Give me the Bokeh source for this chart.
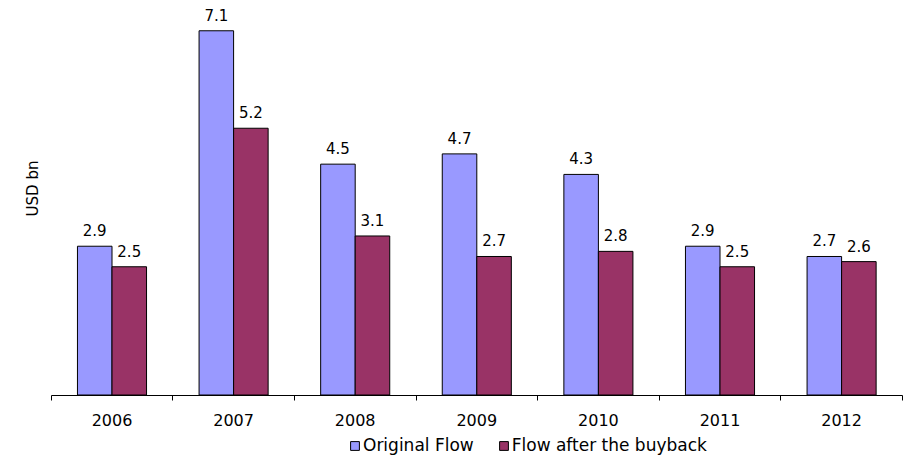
import numpy as np
from bokeh.plotting import figure
from bokeh.models import (ColumnDataSource, FixedTicker, LabelSet, Label, Legend,
                          LegendItem, Range1d, LinearAxis)
from bokeh.core.properties import value
from bokeh.embed import file_html
from bokeh.resources import INLINE

years = ["2006", "2007", "2008", "2009", "2010", "2011", "2012"]
original_flow = [2.9, 7.1, 4.5, 4.7, 4.3, 2.9, 2.7]
after_buyback = [2.5, 5.2, 3.1, 2.7, 2.8, 2.5, 2.6]
series_names = ["Original Flow", "Flow after the buyback"]
y_label = "USD bn"

FONT = "DejaVu Sans"
BLUE = "#9999FF"
RED = "#993366"
BW = 0.284

W, H = 905, 457
LEFT_PX, CAT_PX = 50.7, 121.6      # plot-area layout in pixels
BASE_PX, UNIT_PX = 394.5, 51.3

centers = np.arange(len(years)) + 0.5

p = figure(width=W, height=H, output_backend="svg", toolbar_location=None,
           x_range=Range1d(-LEFT_PX / CAT_PX, (W - LEFT_PX) / CAT_PX),
           y_range=Range1d(-(H - BASE_PX) / UNIT_PX, BASE_PX / UNIT_PX),
           x_axis_location=None, y_axis_location=None, min_border=0)
p.outline_line_color = None
p.grid.visible = False

src1 = ColumnDataSource(dict(x=centers - BW / 2, top=original_flow,
                             lab=[f"{v:.1f}" for v in original_flow]))
src2 = ColumnDataSource(dict(x=centers + BW / 2, top=after_buyback,
                             lab=[f"{v:.1f}" for v in after_buyback]))

r1 = p.vbar(x="x", top="top", width=BW, source=src1, fill_color=BLUE,
            line_color="black", line_width=1)
r2 = p.vbar(x="x", top="top", width=BW, source=src2, fill_color=RED,
            line_color="black", line_width=1)

for s in (src1, src2):
    p.add_layout(LabelSet(x="x", y="top", text="lab", source=s, y_offset=10,
                          text_align="center", text_baseline="alphabetic",
                          text_font=value(FONT), text_font_size=value("15px"),
                          text_color="black"))

ax = LinearAxis(fixed_location=0, bounds=(0, len(years)))
ax.ticker = FixedTicker(ticks=list(centers), minor_ticks=list(range(len(years) + 1)))
ax.major_label_overrides = {float(c): y for c, y in zip(centers, years)}
ax.major_tick_out = 0
ax.major_tick_in = 0
ax.minor_tick_out = 5
ax.minor_tick_in = 0
ax.minor_tick_line_color = "black"
ax.axis_line_color = "black"
ax.major_label_text_font = FONT
ax.major_label_text_font_size = "16px"
ax.major_label_text_color = "black"
ax.major_label_standoff = 14
p.add_layout(ax, "below")

p.add_layout(Label(x=32, y=H - 188, x_units="screen", y_units="screen",
                   text=y_label, angle=np.pi / 2, text_align="center",
                   text_baseline="middle", text_font=FONT,
                   text_font_size="15px", text_color="black"))

legend = Legend(items=[LegendItem(label=series_names[0], renderers=[r1]),
                       LegendItem(label=series_names[1], renderers=[r2])],
                location=(349, 2), orientation="horizontal",
                padding=0, margin=0, spacing=24, label_standoff=3,
                glyph_width=11, glyph_height=11, label_height=18,
                label_text_font=FONT, label_text_font_size="17px",
                label_text_color="black",
                border_line_color=None, background_fill_alpha=0)
p.add_layout(legend, "center")

open("out.html", "w").write(file_html(p, INLINE))
